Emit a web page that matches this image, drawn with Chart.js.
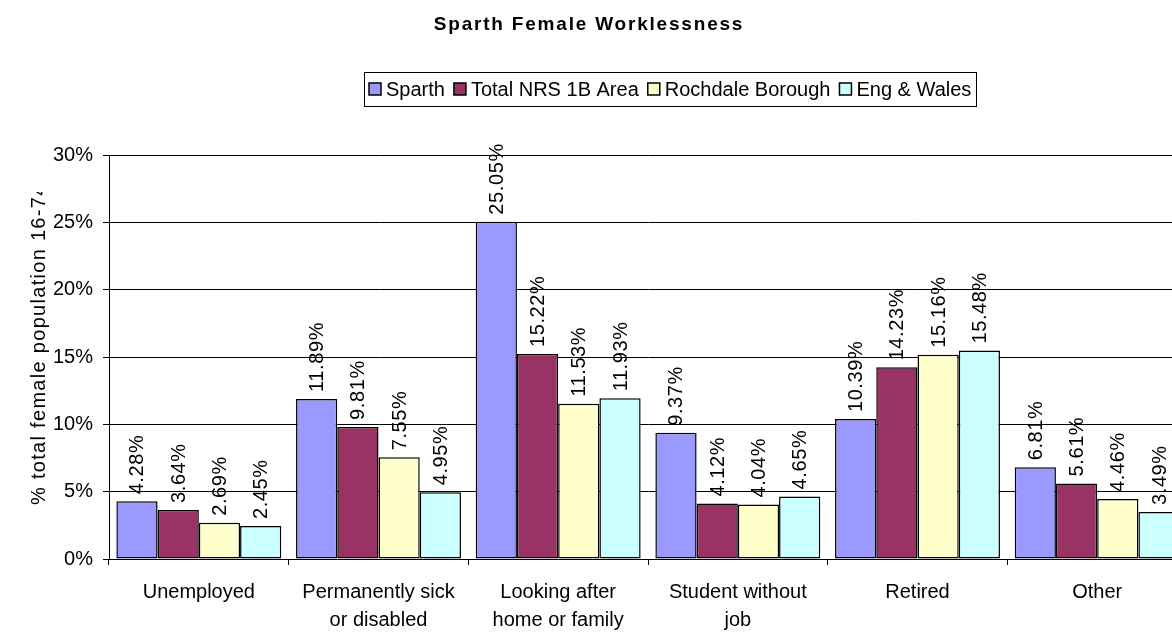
<!DOCTYPE html>
<html><head><meta charset="utf-8">
<script src="https://cdn.jsdelivr.net/npm/chart.js@4.4.0/dist/chart.umd.min.js"></script>
<style>
html,body{margin:0;padding:0;background:#fff;overflow:hidden;width:1172px;height:633px}
#wrap{position:absolute;left:0;top:0;width:1190px;height:633px}
</style>
</head><body><div id="wrap"><canvas id="c" width="1190" height="633"></canvas></div>
<script>
const chartTitle = "Sparth Female Worklessness";
const yAxisTitle = "% total female population 16-74";
const categories = ["Unemployed", ["Permanently sick","or disabled"], ["Looking after","home or family"], ["Student without","job"], "Retired", "Other"];
const seriesNames = ["Sparth","Total NRS 1B Area","Rochdale Borough","Eng & Wales"];
const sparth   = [4.28, 11.89, 25.05, 9.37, 10.39, 6.81];
const totalNRS = [3.64, 9.81, 15.22, 4.12, 14.23, 5.61];
const rochdale = [2.69, 7.55, 11.53, 4.04, 15.16, 4.46];
const engWales = [2.45, 4.95, 11.93, 4.65, 15.48, 3.49];
const yTicks = [0, 5, 10, 15, 20, 25, 30];
const colors = ['#9999FF','#993366','#FFFFCC','#CCFFFF'];
const FONT = "'Liberation Sans', Arial, sans-serif";

const seriesValues = [sparth, totalNRS, rochdale, engWales];

const titlePlugin = {
  id: 'customTitle',
  afterDraw(chart) {
    const ctx = chart.ctx;
    ctx.save();
    ctx.font = "bold 19px " + FONT;
    ctx.fillStyle = '#000';
    ctx.textAlign = 'center';
    ctx.textBaseline = 'alphabetic';
    try { ctx.letterSpacing = '1.8px'; } catch(e) {}
    ctx.fillText(chartTitle, 589, 30);
    ctx.restore();
  }
};

const legendPlugin = {
  id: 'customLegend',
  afterDraw(chart) {
    const ctx = chart.ctx;
    ctx.save();
    ctx.font = "20px " + FONT;
    const sq = 12, gapST = 5, gapItem = 9, pad = 5;
    const widths = seriesNames.map(n => ctx.measureText(n).width);
    let total = pad * 2;
    widths.forEach((w, i) => { total += sq + gapST + w + (i < widths.length - 1 ? gapItem : 0); });
    const cx = 670, top = 72, bottom = 106;
    const left = Math.round(cx - total / 2);
    ctx.strokeStyle = '#000';
    ctx.lineWidth = 1;
    ctx.strokeRect(left + 0.5, top + 0.5, Math.round(total), bottom - top);
    let x = left + pad;
    const cy = (top + bottom) / 2;
    seriesNames.forEach((n, i) => {
      const ds = chart.data.datasets[i];
      ctx.fillStyle = ds.backgroundColor;
      ctx.fillRect(x, cy - sq / 2, sq, sq);
      ctx.strokeStyle = '#000';
      ctx.lineWidth = 1.5;
      ctx.strokeRect(x, cy - sq / 2, sq, sq);
      x += sq + gapST;
      ctx.fillStyle = '#000';
      ctx.textAlign = 'left';
      ctx.textBaseline = 'middle';
      ctx.fillText(n, x, cy + 1);
      x += widths[i] + gapItem;
    });
    ctx.restore();
  }
};

const yTitlePlugin = {
  id: 'yTitle',
  afterDraw(chart) {
    const ctx = chart.ctx;
    ctx.save();
    ctx.beginPath();
    ctx.rect(0, 192, 100, 441);
    ctx.clip();
    ctx.translate(39, 505);
    ctx.rotate(-Math.PI / 2);
    ctx.font = "20px " + FONT;
    try { ctx.letterSpacing = '1.3px'; } catch(e) {}
    ctx.fillStyle = '#000';
    ctx.textAlign = 'left';
    ctx.textBaseline = 'middle';
    ctx.fillText(yAxisTitle, 0, 0);
    ctx.restore();
  }
};

const dataLabelPlugin = {
  id: 'dataLabels',
  afterDatasetsDraw(chart) {
    const ctx = chart.ctx;
    ctx.save();
    ctx.font = "20px " + FONT;
    try { ctx.letterSpacing = '0.6px'; } catch(e) {}
    ctx.fillStyle = '#000';
    ctx.textAlign = 'left';
    ctx.textBaseline = 'middle';
    chart.data.datasets.forEach((ds, di) => {
      const meta = chart.getDatasetMeta(di);
      meta.data.forEach((bar, i) => {
        const txt = ds.data[i].toFixed(2) + '%';
        ctx.save();
        ctx.translate(bar.x + 1, bar.y - 7);
        ctx.rotate(-Math.PI / 2);
        ctx.fillText(txt, 0, 0);
        ctx.restore();
      });
    });
    ctx.restore();
  }
};

new Chart(document.getElementById('c'), {
  type: 'bar',
  data: {
    labels: categories,
    datasets: seriesNames.map((n, i) => ({
      label: n,
      data: seriesValues[i],
      backgroundColor: colors[i],
      borderColor: '#000',
      borderWidth: 1.5,
      borderSkipped: false,
      categoryPercentage: 0.918,
      barPercentage: 1.0
    }))
  },
  options: {
    responsive: false,
    animation: false,
    events: [],
    layout: { padding: { top: 155, right: 3, left: 0, bottom: 0 } },
    plugins: { legend: { display: false }, title: { display: false }, tooltip: { enabled: false } },
    scales: {
      x: {
        grid: { display: true, drawOnChartArea: false, drawTicks: true, tickLength: 6, color: '#000', offset: true },
        border: { display: true, color: '#000', width: 1 },
        ticks: { color: '#000', font: { family: FONT, size: 20, lineHeight: 1.4 }, padding: 13, maxRotation: 0, minRotation: 0, autoSkip: false },
        afterFit(scale) { scale.height = 74; }
      },
      y: {
        min: 0, max: 30,
        afterBuildTicks(scale) { scale.ticks = yTicks.map(v => ({ value: v })); },
        grid: { display: true, color: '#000', lineWidth: 1, drawTicks: true, tickLength: 6 },
        border: { display: true, color: '#000', width: 1 },
        ticks: { color: '#000', font: { family: FONT, size: 20 }, padding: 10, callback: v => v + '%' },
        afterFit(scale) { scale.width = 109; }
      }
    }
  },
  plugins: [titlePlugin, legendPlugin, yTitlePlugin, dataLabelPlugin]
});
</script>
</body></html>
